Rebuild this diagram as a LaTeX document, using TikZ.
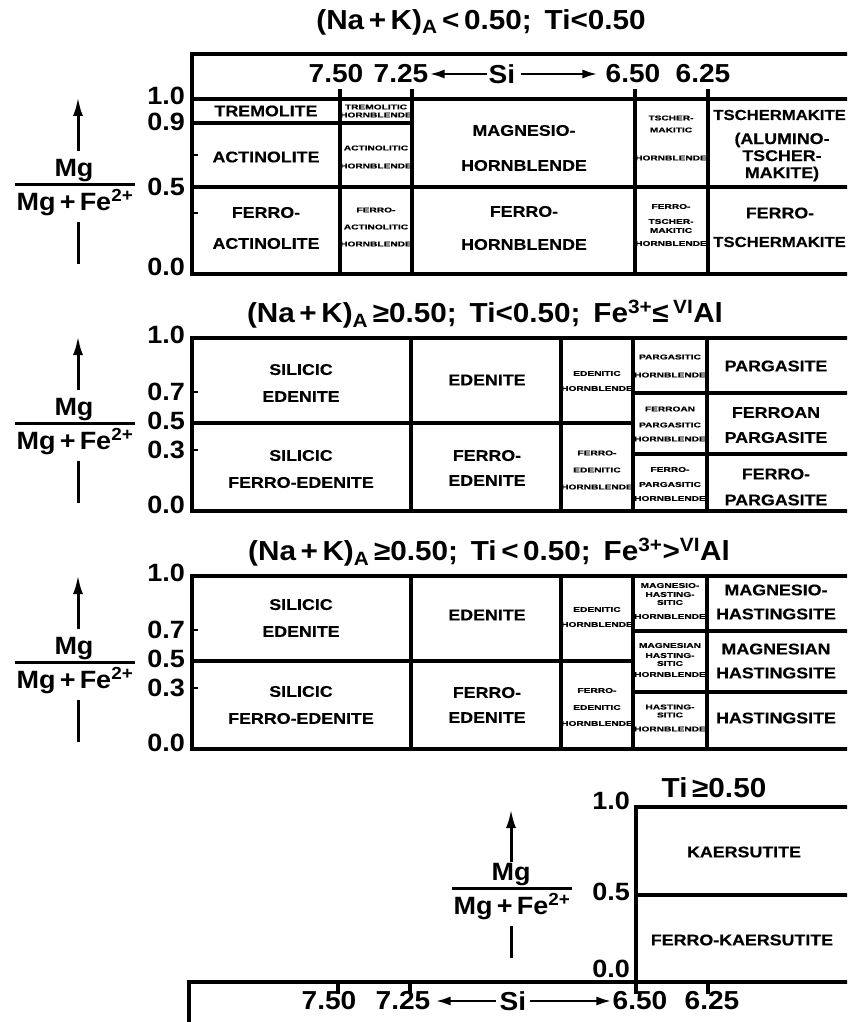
\documentclass[tikz,border=0pt]{standalone}
\usepackage{fontspec}
\setmainfont{Liberation Sans}[FakeStretch=1.15, BoldFeatures={FakeBold=0.4}]
\newfontfamily\numfont{Liberation Sans}[FakeStretch=1.08]
\newfontfamily\widefont{Liberation Sans}[FakeStretch=1.45, BoldFeatures={FakeBold=0.8}]
\usetikzlibrary{arrows.meta}

\begin{document}
\begin{tikzpicture}[
  x=1pt, y=-1pt,
  frame/.style     = {line width=3.5pt, line cap=rect},
  tick mark/.style = {line width=2.2pt},
  head/.style      = {font=\numfont\fontsize{27.5}{30}\selectfont\bfseries, inner sep=0pt},
  num/.style       = {font=\numfont\fontsize{25}{27}\selectfont\bfseries, inner sep=0pt, anchor=east},
  si num/.style    = {font=\numfont\fontsize{26}{28}\selectfont\bfseries, inner sep=0pt},
  frac/.style      = {font=\numfont\fontsize{25}{27}\selectfont\bfseries, inner sep=1pt},
  up arr/.style    = {-{Latex[length=19pt,width=10pt]}, line width=3pt},
  stem/.style      = {line width=3pt},
  si arr/.style    = {-{Latex[length=15pt,width=9pt]}, line width=2.6pt},
  lab/.style       = {font=\fontsize{15.5}{27}\selectfont\bfseries, align=center, inner sep=0pt},
  lab tight/.style = {font=\fontsize{15.5}{17}\selectfont\bfseries, align=center, inner sep=0pt},
  tiny lab/.style  = {font=\widefont\fontsize{7}{9}\selectfont\bfseries, align=center, inner sep=0pt},
]
\useasboundingbox (0,0) rectangle (847,1022);
\clip (0,0) rectangle (847,1022);

% =============================================================
% Panel 1 -- (Na+K)A < 0.50; Ti < 0.50
% =============================================================
\node[head] (t1) at (481,22) {(Na\,+\,K)\textsubscript{A}\,<\,0.50;\, Ti<0.50};

\draw[frame] (860,54) -- (192,54) -- (192,274) -- (860,274);
\draw[frame] (192,99) -- (860,99);
\draw[frame] (192,187) -- (860,187);
\draw[frame] (192,123) -- (412,123);
\foreach \x in {340,412,635,708}
  \draw[frame] (\x,91) -- (\x,274);
\foreach \y in {155,213}
  \draw[tick mark] (192,\y) -- (198,\y);

\node[num] (n1a) at (185,96)  {1.0};
\node[num] (n1b) at (185,122) {0.9};
\node[num] (n1c) at (185,187) {0.5};
\node[num] (n1d) at (185,267) {0.0};

% Si scale inside the top strip
\node[si num] (s1a) at (336,74) {7.50};
\node[si num] (s1b) at (401,74) {7.25};
\node[si num] (si1) at (502,74) {Si};
\node[si num] (s1c) at (633,74) {6.50};
\node[si num] (s1d) at (703,74) {6.25};
\draw[si arr, shorten <=2pt, shorten >=1pt] (si1.west) -- (s1b.east);
\draw[si arr, shorten <=6pt, shorten >=8pt] (si1.east) -- (s1c.west);

% cells
\node[lab] (p1a) at (266,111) {TREMOLITE};
\node[lab] (p1b) at (266,157) {ACTINOLITE};
\node[lab] (p1c) at (266,228) {FERRO-\\[4pt]ACTINOLITE};
\node[tiny lab] (p1d) at (376,111) {TREMOLITIC\\[-1pt]HORNBLENDE};
\node[tiny lab] (p1e) at (376,157) {ACTINOLITIC\\[9pt]HORNBLENDE};
\node[tiny lab] (p1f) at (376,227) {FERRO-\\[8pt]ACTINOLITIC\\[8pt]HORNBLENDE};
\node[lab] (p1g) at (524,148) {MAGNESIO-\\[8pt]HORNBLENDE};
\node[lab] (p1h) at (524,228) {FERRO-\\[6pt]HORNBLENDE};
\node[tiny lab] (p1i) at (671,138) {TSCHER-\\[3pt]MAKITIC\\[19pt]HORNBLENDE};
\node[tiny lab] (p1j) at (671,225) {FERRO-\\[6pt]TSCHER-\\MAKITIC\\[4pt]HORNBLENDE};
\node[lab, font=\fontsize{14.5}{17}\selectfont\bfseries, anchor=east] (p1k) at (846,115) {TSCHERMAKITE};
\node[lab tight] (p1l) at (782,157) {(ALUMINO-\\TSCHER-\\MAKITE)};
\node[lab] (p1m) at (780,213) {FERRO-};
\node[lab, font=\fontsize{14.5}{17}\selectfont\bfseries, anchor=east] (p1n) at (846,242) {TSCHERMAKITE};

% =============================================================
% Panels 2 and 3 -- same grid, shifted down
% =============================================================
\node[head] (t2) at (485,314) {(Na\,+\,K)\textsubscript{A}\,≥0.50;\, Ti<0.50;\, Fe\textsuperscript{3+}≤\,\textsuperscript{VI}Al};
\node[head] (t3) at (489,552) {(Na\,+\,K)\textsubscript{A}\,≥0.50;\, Ti\,<\,0.50;\, Fe\textsuperscript{3+}>\textsuperscript{VI}Al};

\foreach \oy/\n in {0/2, 238/3} {
  \draw[frame] (860,338+\oy) -- (192,338+\oy) -- (192,511+\oy) -- (860,511+\oy);
  \draw[frame] (192,423+\oy) -- (633,423+\oy);
  \draw[frame] (633,393+\oy) -- (860,393+\oy);
  \draw[frame] (633,454+\oy) -- (860,454+\oy);
  \foreach \x in {411,561,633,707}
    \draw[frame] (\x,338+\oy) -- (\x,511+\oy);
  \foreach \y in {392,450}
    \draw[tick mark] (192,\y+\oy) -- (198,\y+\oy);
  \node[num] (n\n a) at (185,335+\oy) {1.0};
  \node[num] (n\n b) at (185,392+\oy) {0.7};
  \node[num] (n\n c) at (185,421+\oy) {0.5};
  \node[num] (n\n d) at (185,450+\oy) {0.3};
  \node[num] (n\n e) at (185,505+\oy) {0.0};
}

% left axis: Mg/(Mg+Fe2+) with arrow, for panels 1-3
\foreach \b/\n in {184/1, 423/2, 662/3} {
  \node[frac, anchor=south] (num\n) at (74,\b-1) {Mg};
  \node[frac, anchor=north] (den\n) at (75,\b+4) {Mg\,+\,Fe\textsuperscript{2+}};
  \draw[stem] (den\n.north west |- 0,\b) -- (den\n.north east |- 0,\b);
  \coordinate (lo\n) at (78,\b-33);
  \coordinate (hi\n) at (78,\b-87);
  \coordinate (st\n) at (78,\b+38);
  \coordinate (en\n) at (78,\b+80);
  \draw[up arr] (lo\n) -- (hi\n);
  \draw[stem] (st\n) -- (en\n);
}

% panel 2 cells
\node[lab] (p2a) at (301,383) {SILICIC\\EDENITE};
\node[lab] (p2b) at (487,380) {EDENITE};
\node[tiny lab] (p2c) at (597,381) {EDENITIC\\[6pt]HORNBLENDE};
\node[tiny lab] (p2d) at (670,366) {PARGASITIC\\[9pt]HORNBLENDE};
\node[lab] (p2e) at (776,366) {PARGASITE};
\node[tiny lab] (p2f) at (670,424) {FERROAN\\[7pt]PARGASITIC\\[5pt]HORNBLENDE};
\node[lab] (p2g) at (776,425) {FERROAN\\[-2pt]PARGASITE};
\node[lab] (p2h) at (301,469) {SILICIC\\FERRO-EDENITE};
\node[lab] (p2i) at (487,468) {FERRO-\\[-2pt]EDENITE};
\node[tiny lab] (p2j) at (597,470) {FERRO-\\[8pt]EDENITIC\\[8pt]HORNBLENDE};
\node[tiny lab] (p2k) at (670,484) {FERRO-\\[6pt]PARGASITIC\\[5pt]HORNBLENDE};
\node[lab] (p2l) at (776,487) {FERRO-\\[-1pt]PARGASITE};

% panel 3 cells
\node[lab] (p3a) at (301,618) {SILICIC\\EDENITE};
\node[lab] (p3b) at (487,615) {EDENITE};
\node[tiny lab] (p3c) at (597,617) {EDENITIC\\[6pt]HORNBLENDE};
\node[tiny lab] (p3d) at (670,601) {MAGNESIO-\\[0pt]HASTING-\\[-1pt]SITIC\\[5pt]HORNBLENDE};
\node[lab] (p3e) at (776,602) {MAGNESIO-\\[-3pt]HASTINGSITE};
\node[tiny lab] (p3f) at (670,660) {MAGNESIAN\\[1pt]HASTING-\\[-1pt]SITIC\\[2pt]HORNBLENDE};
\node[lab] (p3g) at (776,661) {MAGNESIAN\\[-3pt]HASTINGSITE};
\node[lab] (p3h) at (301,705) {SILICIC\\FERRO-EDENITE};
\node[lab] (p3i) at (487,705) {FERRO-\\[-2pt]EDENITE};
\node[tiny lab] (p3j) at (597,707) {FERRO-\\[8pt]EDENITIC\\[7pt]HORNBLENDE};
\node[tiny lab] (p3k) at (670,718) {HASTING-\\[-1pt]SITIC\\[5pt]HORNBLENDE};
\node[lab] (p3l) at (776,718) {HASTINGSITE};

% =============================================================
% Panel 4 -- Ti >= 0.50, with the shared Si axis below
% =============================================================
\node[head] (t4) at (714,788) {Ti\,≥0.50};

\draw[frame] (860,807) -- (636,807) -- (636,992);
\draw[frame] (636,895) -- (860,895);
\draw[frame] (189,1030) -- (189,982) -- (860,982);
\foreach \x in {338,410,708}
  \draw[frame] (\x,982) -- (\x,992);

\node[num] (n4a) at (630,801) {1.0};
\node[num] (n4b) at (630,892) {0.5};
\node[num] (n4c) at (630,969) {0.0};

\node[frac, anchor=south] (num4) at (511,887) {Mg};
\node[frac, anchor=north] (den4) at (512,892) {Mg\,+\,Fe\textsuperscript{2+}};
\draw[stem] (den4.north west |- 0,888) -- (den4.north east |- 0,888);
\coordinate (lo4) at (511,862);
\coordinate (hi4) at (511,809);
\coordinate (st4) at (511,926);
\coordinate (en4) at (511,958);
\draw[up arr] (lo4) -- (hi4);
\draw[stem] (st4) -- (en4);

\node[lab] (p4a) at (744,852) {KAERSUTITE};
\node[lab] (p4b) at (742,940) {FERRO-KAERSUTITE};

\node[si num] (s4a) at (329,1001) {7.50};
\node[si num] (s4b) at (403,1001) {7.25};
\node[si num] (si4) at (513,1001) {Si};
\node[si num] (s4c) at (640,1001) {6.50};
\node[si num] (s4d) at (712,1001) {6.25};
\draw[si arr, shorten <=4pt, shorten >=5pt] (si4.west) -- (s4b.east);
\draw[si arr, shorten <=4pt, shorten >=1pt] (si4.east) -- (s4c.west);

\end{tikzpicture}
\end{document}
